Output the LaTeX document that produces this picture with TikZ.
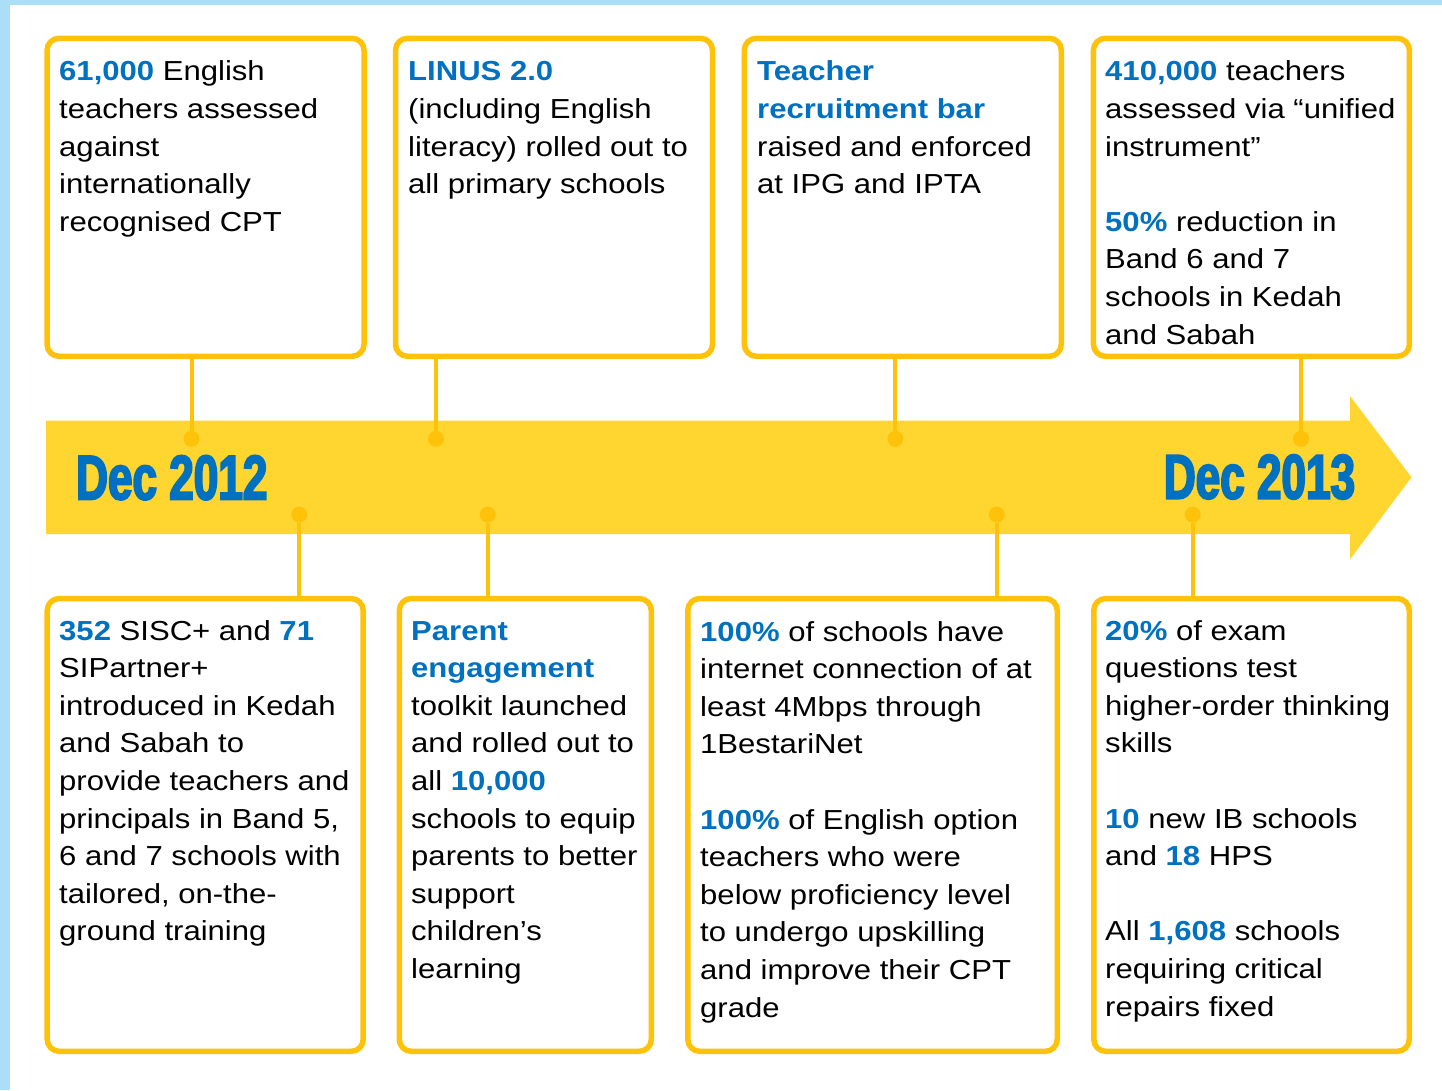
\documentclass[tikz,border=0pt]{standalone}
\usepackage{fontspec}
\setmainfont{Liberation Sans}[FakeStretch=1.13]
\newfontfamily\datefont{Liberation Sans}[FakeStretch=0.7,BoldFeatures={FakeBold=3}]
\definecolor{boxc}{HTML}{FFC20A}
\definecolor{arrowc}{HTML}{FFD530}
\definecolor{bluec}{HTML}{0070C0}
\definecolor{skyc}{HTML}{ABDFF5}
\newcommand\hb[1]{\textbf{\textcolor{bluec}{#1}}}
\tikzset{
  box/.style={draw=boxc, line width=5.5pt, rounded corners=12pt, fill=white, inner sep=0pt},
  txt/.style={anchor=north west, inner sep=0pt, align=left, font=\fontsize{27.5}{37.6}\selectfont},
  conn/.style={draw=boxc, line width=4pt},
  dotc/.style={circle, fill=boxc, inner sep=0pt, minimum size=16pt},
  datetxt/.style={anchor=base, inner sep=0pt, text=bluec, font=\datefont\bfseries\fontsize{63}{70}\selectfont},
}
\begin{document}
\begin{tikzpicture}[x=1pt,y=-1pt]
\useasboundingbox (0,0) rectangle (1442,1090);
\fill[skyc] (0,0) rectangle (1442,1090);
\fill[white] (10,5) rectangle (1442,1090);
% arrow
\fill[arrowc] (46,420.7) -- (1350,420.7) -- (1350,396) -- (1411.5,477.3) -- (1350,559.3) -- (1350,534) -- (46,534) -- cycle;
% dots
\node[dotc] (t1) at (191.5,438.8) {};
\node[dotc] (t2) at (436,438.8) {};
\node[dotc] (t3) at (895.3,438.8) {};
\node[dotc] (t4) at (1301,438.8) {};
\node[dotc] (u1) at (299.3,514.6) {};
\node[dotc] (u2) at (487.7,514.6) {};
\node[dotc] (u3) at (996.7,514.6) {};
\node[dotc] (u4) at (1192.7,514.6) {};
% boxes
\node[box, minimum width=317pt, minimum height=318pt] (b1) at (205.5,197.3) {};
\node[box, minimum width=317pt, minimum height=318pt] (b2) at (554,197.3) {};
\node[box, minimum width=317pt, minimum height=318pt] (b3) at (902.8,197.3) {};
\node[box, minimum width=316pt, minimum height=318pt] (b4) at (1251.4,197.3) {};
\node[box, minimum width=316pt, minimum height=452.8pt] (b5) at (205.2,824.9) {};
\node[box, minimum width=252pt, minimum height=452.8pt] (b6) at (525.3,824.9) {};
\node[box, minimum width=369.5pt, minimum height=452.8pt] (b7) at (872.5,824.9) {};
\node[box, minimum width=315.5pt, minimum height=452.8pt] (b8) at (1251.5,824.9) {};
% connectors
\draw[conn] (t1) -- (t1 |- b1.south);
\draw[conn] (t2) -- (t2 |- b2.south);
\draw[conn] (t3) -- (t3 |- b3.south);
\draw[conn] (t4) -- (t4 |- b4.south);
\draw[conn] (u1) -- (u1 |- b5.north);
\draw[conn] (u2) -- (u2 |- b6.north);
\draw[conn] (u3) -- (u3 |- b7.north);
\draw[conn] (u4) -- (u4 |- b8.north);
% dates
\node[datetxt] (d1) at (171.8,499.4) {Dec 2012};
\node[datetxt] (d2) at (1259.5,498.6) {Dec 2013};
% texts
\node[txt] (x1) at (59,54.4) {\strut\hb{61,000} English\\teachers assessed\\against\\internationally\\recognised CPT};
\node[txt] (x2) at (408,54.4) {\strut\hb{LINUS 2.0}\\(including English\\literacy) rolled out to\\all primary schools};
\node[txt] (x3) at (757,54.4) {\strut\hb{Teacher}\\\hb{recruitment bar}\\raised and enforced\\at IPG and IPTA};
\node[txt] (x4) at (1105,54.4) {\strut\hb{410,000} teachers\\assessed via “unified\\instrument”\\[37.6pt]\hb{50\%} reduction in\\Band 6 and 7\\schools in Kedah\\and Sabah};
\node[txt] (x5) at (59,613.5) {\strut\hb{352} SISC+ and \hb{71}\\SIPartner+\\introduced in Kedah\\and Sabah to\\provide teachers and\\principals in Band 5,\\6 and 7 schools with\\tailored, on-the-\\ground training};
\node[txt] (x6) at (411,613.5) {\strut\hb{Parent}\\\hb{engagement}\\toolkit launched\\and rolled out to\\all \hb{10,000}\\schools to equip\\parents to better\\support\\children’s\\learning};
\node[txt] (x7) at (700,614.5) {\strut\hb{100\%} of schools have\\internet connection of at\\least 4Mbps through\\1BestariNet\\[37.6pt]\hb{100\%} of English option\\teachers who were\\below proficiency level\\to undergo upskilling\\and improve their CPT\\grade};
\node[txt] (x8) at (1105,613.5) {\strut\hb{20\%} of exam\\questions test\\higher-order thinking\\skills\\[37.6pt]\hb{10} new IB schools\\and \hb{18} HPS\\[37.6pt]All \hb{1,608} schools\\requiring critical\\repairs fixed};
\end{tikzpicture}
\end{document}
